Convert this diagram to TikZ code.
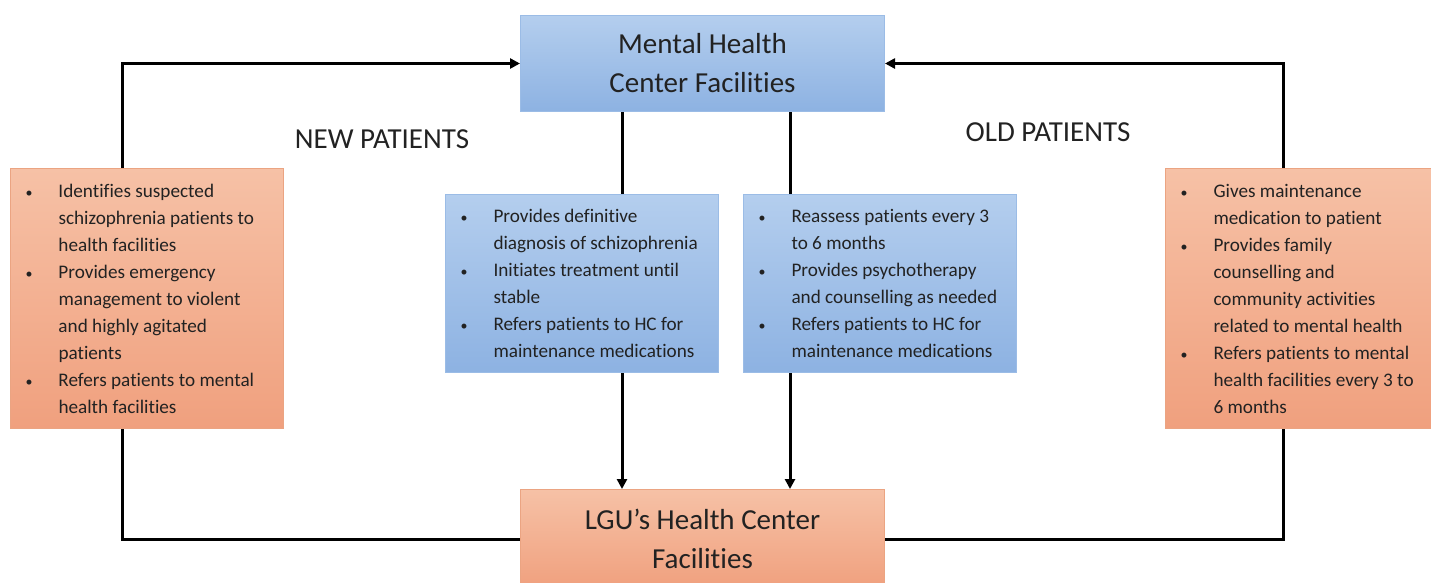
\documentclass[tikz,border=0pt]{standalone}
\usepackage{fontspec}
\setmainfont{Carlito}[Ligatures=NoCommon]
\usetikzlibrary{arrows.meta,backgrounds}
\definecolor{txt}{HTML}{222222}
\definecolor{bluetop}{HTML}{B4CEEE}
\definecolor{bluebot}{HTML}{8DB2E2}
\definecolor{blueline}{HTML}{9BBCE6}
\definecolor{ortop}{HTML}{F6C1A6}
\definecolor{orbot}{HTML}{F0A07E}
\definecolor{orline}{HTML}{EBA482}
\newcommand{\bul}[1]{\par\noindent\hangindent=36pt\hangafter=1\makebox[36pt][l]{\hspace{3pt}{\fontsize{14pt}{14pt}\selectfont •}}#1}
\newcommand{\listfont}{\fontsize{19.2pt}{27pt}\selectfont}
\tikzset{
  bluebox/.style={draw=blueline, line width=1pt, top color=bluetop, bottom color=bluebot, anchor=north west, inner sep=0pt, text=txt},
  orbox/.style={draw=orline, line width=1pt, top color=ortop, bottom color=orbot, anchor=north west, inner sep=0pt, text=txt},
  titletext/.style={font=\fontsize{29pt}{39pt}\selectfont, align=center},
  arr/.style={line width=3pt, -{Triangle[length=10pt,width=10pt]}},
  conn/.style={line width=3pt},
  lbl/.style={font=\fontsize{29pt}{32pt}\selectfont, text=txt}
}
\begin{document}
\begin{tikzpicture}[x=1pt,y=-1pt]
\useasboundingbox (0,0) rectangle (1431,582);
% top and bottom boxes
\node[bluebox, minimum width=364pt, minimum height=96pt, titletext] (mhc) at (520,15) {Mental Health\\Center Facilities};
\node[orbox, minimum width=364pt, minimum height=99pt, titletext] (lgu) at (520,489) {LGU’s Health Center\\Facilities};
% side boxes
\node[orbox, minimum width=273pt, minimum height=260pt] (lb) at (10,168) {%
  \begin{minipage}{249pt}\listfont\raggedright
  \bul{Identifies suspected\newline schizophrenia patients to\newline health facilities}
  \bul{Provides emergency\newline management to violent\newline and highly agitated\newline patients}
  \bul{Refers patients to mental\newline health facilities}
  \end{minipage}};
\node[orbox, minimum width=275pt, minimum height=260pt] (rb) at (1165,168) {%
  \begin{minipage}{251pt}\listfont\raggedright
  \bul{Gives maintenance\newline medication to patient}
  \bul{Provides family\newline counselling and\newline community activities\newline related to mental health}
  \bul{Refers patients to mental\newline health facilities every 3 to\newline 6 months}
  \end{minipage}};
% middle boxes
\node[bluebox, minimum width=273pt, minimum height=178pt] (mb1) at (445,194) {%
  \begin{minipage}{249pt}\listfont\raggedright
  \bul{Provides definitive\newline diagnosis of schizophrenia}
  \bul{Initiates treatment until\newline stable}
  \bul{Refers patients to HC for\newline maintenance medications}
  \end{minipage}};
\node[bluebox, minimum width=273pt, minimum height=178pt] (mb2) at (743,194) {%
  \begin{minipage}{249pt}\listfont\raggedright
  \bul{Reassess patients every 3\newline to 6 months}
  \bul{Provides psychotherapy\newline and counselling as needed}
  \bul{Refers patients to HC for\newline maintenance medications}
  \end{minipage}};
% labels
\node[lbl] (newp) at (382,139) {NEW PATIENTS};
\node[lbl] (oldp) at (1048,132) {OLD PATIENTS};
% connectors
\coordinate (lx) at (122,0);
\coordinate (rx) at (1283,0);
\coordinate (c1) at (622,0);
\coordinate (c2) at (790,0);
\begin{scope}[on background layer]
\draw[arr] (lb.north -| lx) |- (mhc.west);
\draw[conn] (lb.south -| lx) |- (lgu.west);
\draw[arr] (rb.north -| rx) |- (mhc.east);
\draw[conn] (rb.south -| rx) |- (lgu.east);
\draw[arr] (mhc.south -| c1) -- (lgu.north -| c1);
\draw[arr] (mhc.south -| c2) -- (lgu.north -| c2);
\end{scope}
\end{tikzpicture}
\end{document}
